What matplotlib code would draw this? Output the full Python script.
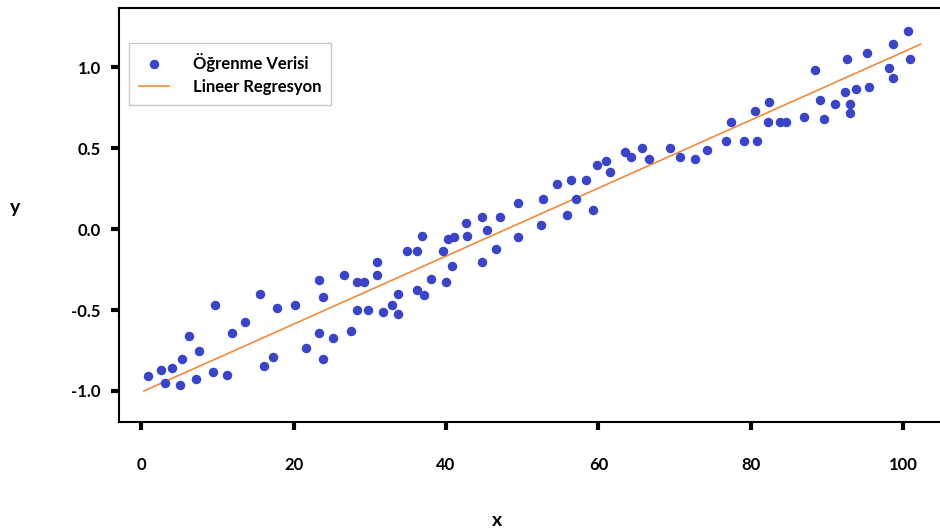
import matplotlib
matplotlib.use("Agg")
import matplotlib.pyplot as plt

plt.rcParams['font.family'] = ['Lato', 'DejaVu Sans']

# training data
x_data = [0.91, 2.53, 3.98, 3.10, 5.07, 5.37, 6.25, 7.60, 7.13, 9.66,
          9.36, 11.27, 11.93, 13.63, 15.60, 16.09, 17.31, 17.83, 20.12, 21.56,
          23.27, 23.87, 23.27, 23.87, 25.18, 26.63, 27.46, 28.33, 29.21, 28.33,
          29.77, 30.88, 30.88, 31.74, 32.92, 33.71, 33.71, 34.81, 36.20, 36.86,
          36.20, 37.12, 38.00, 39.93, 39.62, 40.19, 41.02, 40.80, 42.56, 42.69,
          44.73, 45.39, 44.73, 46.53, 47.06, 49.46, 49.46, 52.40, 52.74, 54.50,
          55.81, 56.37, 57.03, 58.43, 59.30, 59.82, 60.97, 61.49, 63.46, 64.34,
          65.78, 66.65, 69.46, 70.68, 72.64, 74.26, 76.80, 77.37, 79.07, 80.82,
          80.52, 82.26, 82.39, 83.80, 84.58, 86.99, 88.39, 89.05, 89.57, 91.01,
          92.42, 92.68, 92.99, 92.99, 93.86, 95.25, 95.52, 98.10, 98.67, 98.67,
          100.64, 100.86]
y_data = [-0.907, -0.870, -0.856, -0.952, -0.965, -0.802, -0.658, -0.751, -0.924, -0.470,
          -0.884, -0.899, -0.643, -0.575, -0.402, -0.844, -0.790, -0.485, -0.470, -0.736,
          -0.312, -0.417, -0.643, -0.802, -0.671, -0.285, -0.631, -0.324, -0.324, -0.498,
          -0.498, -0.203, -0.283, -0.514, -0.470, -0.524, -0.402, -0.135, -0.135, -0.044,
          -0.374, -0.407, -0.308, -0.326, -0.135, -0.059, -0.046, -0.229, 0.040, -0.044,
          0.077, -0.003, -0.203, -0.121, 0.077, 0.160, -0.050, 0.024, 0.185, 0.278,
          0.090, 0.304, 0.185, 0.304, 0.119, 0.397, 0.423, 0.355, 0.479, 0.448,
          0.504, 0.436, 0.504, 0.448, 0.436, 0.490, 0.543, 0.663, 0.543, 0.543,
          0.732, 0.663, 0.786, 0.663, 0.663, 0.692, 0.984, 0.799, 0.679, 0.772,
          0.850, 1.050, 0.772, 0.716, 0.865, 1.091, 0.877, 0.998, 0.933, 1.145,
          1.225, 1.050]

# regression line end points
line_x = [0.34, 102.3]
line_y = [-1.000, 1.143]

x_ticks = [0, 20, 40, 60, 80, 100]
y_ticks = [-1.0, -0.5, 0.0, 0.5, 1.0]

fig = plt.figure(figsize=(9.4, 5.31), dpi=100)
ax = fig.add_axes([119/940, 109/531, 826/940, 414/531])

ax.scatter(x_data, y_data, s=34, color='#3a44c6', label='Öğrenme Verisi', zorder=3)
ax.plot(line_x, line_y, color='#f08a3c', lw=1.2, label='Lineer Regresyon', zorder=2)

ax.set_xlim(-2.94, 105.5)
ax.set_ylim(-1.192, 1.367)
ax.set_xticks(x_ticks)
ax.set_yticks(y_ticks)
ax.set_yticklabels([f'{v:.1f}' for v in y_ticks])

for s in ax.spines.values():
    s.set_linewidth(1.5)
ax.tick_params(axis='both', direction='out', length=6, width=3, labelsize=12)
ax.tick_params(axis='x', pad=19)
ax.tick_params(axis='y', pad=7)
for lab in ax.get_xticklabels() + ax.get_yticklabels():
    lab.set_fontweight('bold')

ax.set_xlabel('x', fontsize=14, fontweight='bold', va='center')
ax.xaxis.set_label_coords(0.4576, -0.237)
ax.set_ylabel('y', fontsize=14, fontweight='bold', rotation=0, va='center', ha='center')
ax.yaxis.set_label_coords(-0.126, 0.519)

leg = ax.legend(loc='upper left', bbox_to_anchor=(0.0125, 0.916), borderaxespad=0,
                fancybox=False, labelspacing=0.45, borderpad=0.6,
                handlelength=1.8, handletextpad=1.4, prop={'weight': 'bold', 'size': 12})
leg.get_frame().set_edgecolor('#bbbbbb')

fig.savefig('out.png', dpi=100)
